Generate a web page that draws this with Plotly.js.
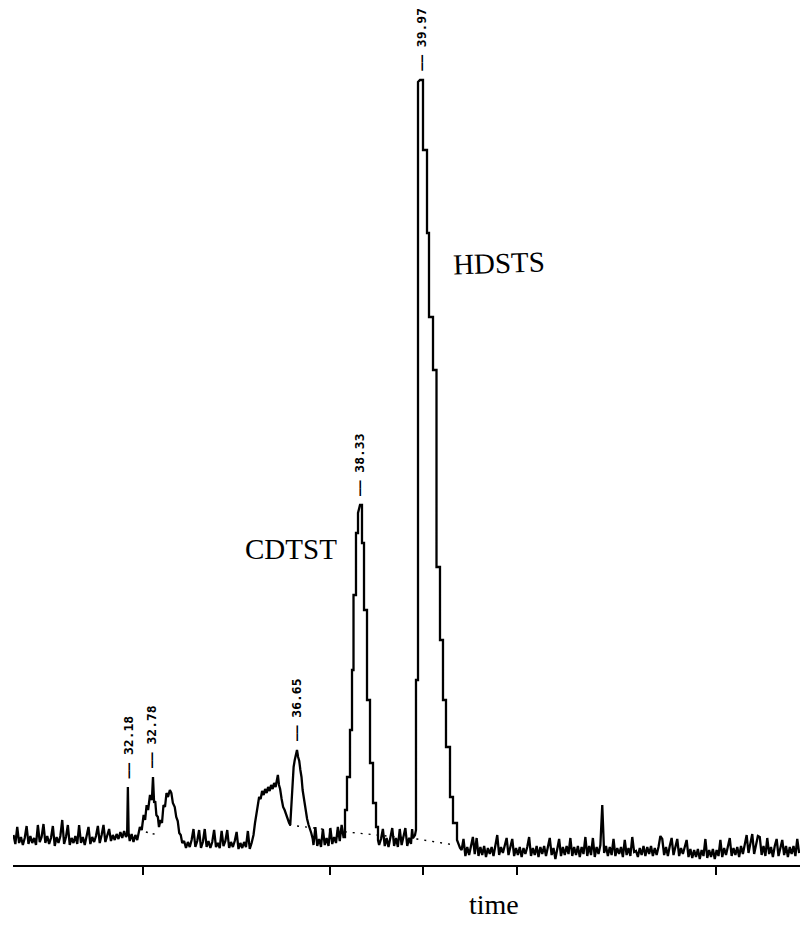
<!DOCTYPE html>
<html>
<head>
<meta charset="utf-8">
<script src="https://cdn.plot.ly/plotly-3.0.1.min.js"></script>
<style>
html,body{margin:0;padding:0;background:#fff;}
#chart{width:801px;height:926px;}
</style>
</head>
<body>
<div id="chart"></div>
<script>
// ---- chromatogram trace (time in min, signal in arbitrary units) ----
const tLeft = [29.10,29.15,29.20,29.25,29.30,29.35,29.40,29.45,29.50,29.55,29.60,29.65,29.70,29.75,29.80,29.85,29.90,29.95,30.00,30.05,30.10,30.15,30.20,30.25,30.30,30.35,30.40,30.45,30.50,30.55,30.60,30.65,30.70,30.75,30.80,30.85,30.90,30.95,31.00,31.05,31.10,31.15,31.20,31.25,31.30,31.35,31.40,31.45,31.50,31.55,31.60,31.65,31.70,31.75,31.80,31.85,31.90,31.95,32.00,32.05,32.10];
const sLeft = [30,21,38,22,28,20,27,39,21,29,22,27,20,40,23,28,41,22,29,21,27,39,19,28,22,29,45,21,28,40,20,27,22,29,21,40,22,28,20,29,38,21,28,23,29,39,22,30,40,23,29,36,24,30,25,31,26,33,27,34,28];

const tPeak1 = [32.13,32.15,32.17,32.20,32.25,32.30,32.35,32.40,32.45,32.47,32.52,32.57,32.61,32.65,32.69,32.74,32.79,32.82,32.85,32.88,32.91,32.95,32.98,33.02,33.06,33.10,33.14,33.18,33.22,33.27,33.31,33.35,33.40,33.44,33.48,33.52,33.56,33.60];
const sPeak1 = [30,78,32,24,31,23,30,25,33,38,35,50,45,60,55,70,65,88,62,64,50,48,38,45,42,60,58,72,68,75,72,62,58,48,44,32,30,22];

const tMid = [33.65,33.70,33.75,33.80,33.85,33.90,33.95,34.00,34.05,34.10,34.15,34.20,34.25,34.30,34.35,34.40,34.45,34.50,34.55,34.60,34.65,34.70,34.75,34.80,34.85,34.90,34.95,35.00,35.05,35.10,35.15,35.20,35.25,35.30,35.35,35.40,35.45];
const sMid = [24,17,23,18,25,36,18,24,35,17,23,36,18,24,17,23,35,18,22,17,34,19,24,35,17,23,18,24,33,16,22,17,23,18,34,16,22];

const tPeak2 = [35.50,35.54,35.58,35.62,35.65,35.69,35.73,35.77,35.81,35.85,35.89,35.93,35.97,36.01,36.05,36.09,36.13,36.15,36.18,36.21,36.25,36.29,36.33,36.37,36.41,36.45,36.48,36.51,36.54,36.57,36.60,36.63,36.66,36.69,36.72,36.75,36.78,36.81,36.84,36.87,36.90,36.93,36.97,37.00,37.04,37.08];
const sPeak2 = [30,42,50,62,68,66,74,70,76,72,78,74,80,76,82,78,86,90,80,76,66,58,55,50,46,42,40,60,80,98,105,110,115,108,104,95,88,75,68,58,52,46,40,37,32,26];

const tBase2 = [37.10,37.15,37.20,37.25,37.30,37.35,37.40,37.45,37.50,37.55,37.60,37.65,37.70,37.75,37.80,37.85,37.90];
const sBase2 = [20,38,19,26,18,36,20,27,19,37,21,28,22,38,24,40,28];

const tPeak3 = [37.94,37.94,37.993,37.993,38.073,38.073,38.127,38.127,38.167,38.167,38.233,38.233,38.287,38.287,38.34,38.393,38.393,38.447,38.447,38.527,38.527,38.607,38.607,38.687,38.687,38.767,38.767,38.82,38.82];
const sPeak3 = [28,55,55,88,88,135,135,195,195,270,270,332,332,352,360,360,322,322,255,255,165,165,102,102,62,62,38,38,25];

const tBase3 = [38.85,38.90,38.95,39.00,39.05,39.10,39.15,39.20,39.25,39.30,39.35,39.40,39.45,39.50,39.55,39.60,39.65,39.70,39.73];
const sBase3 = [20,26,36,19,27,18,26,37,19,27,18,36,20,28,37,19,27,21,36];

const tPeak4 = [39.753,39.807,39.833,39.833,39.887,39.887,39.94,40.02,40.02,40.127,40.127,40.18,40.18,40.287,40.287,40.38,40.38,40.473,40.473,40.553,40.553,40.633,40.633,40.74,40.74,40.82,40.82,40.927,40.927,41.007];
const sPeak4 = [27,30,35,185,185,783,785,785,715,715,632,632,548,548,495,495,298,298,225,225,165,165,118,118,68,68,42,42,25,17];

const tRight = [
 41.05,41.10,41.15,41.20,41.25,41.30,41.35,41.40,41.45,41.50,
 41.55,41.60,41.65,41.70,41.75,41.80,41.85,41.90,41.95,42.00,
 42.05,42.10,42.15,42.20,42.25,42.30,42.35,42.40,42.45,42.50,
 42.55,42.60,42.65,42.70,42.75,42.80,42.85,42.90,42.95,43.00,
 43.05,43.10,43.15,43.20,43.25,43.30,43.35,43.40,43.45,43.50,
 43.55,43.60,43.65,43.70,43.75,43.80,43.85,43.90,43.95,44.00,
 44.05,44.10,44.15,44.20,44.25,44.30,44.35,44.40,44.45,44.50,
 44.55,44.60,44.65,44.70,44.75,44.80,44.85,44.90,44.95,45.00,
 45.05,45.10,45.15,45.20,45.25,45.30,45.35,45.40,45.45,45.50,
 45.55,45.60,45.65,45.70,45.75,45.80,45.85,45.90,45.95,46.00,
 46.05,46.10,46.15,46.20,46.25,46.30,46.35,46.40,46.45,46.50,
 46.55,46.60,46.65,46.70,46.75,46.80,46.85,46.90,46.95,47.00,
 47.05,47.10,47.15,47.20,47.25,47.30,47.35,47.40,47.45,47.50,
 47.55,47.60,47.65,47.70,47.75,47.80,47.85,47.90,47.95,48.00,
 48.05,48.10,48.15,48.20,48.25,48.30,48.35,48.40,48.45,48.50,
 48.55,48.60,48.65,48.70,48.75,48.80,48.85,48.90,48.95,49.00,
 49.05,49.10,49.15,49.20,49.25,49.30,49.35,49.40,49.45,49.50,
 49.55,49.60,49.65,49.70,49.75,49.80,49.85,49.90,49.95,50.00,
 50.05];
const sRight = [
 15,26,9,18,10,19,28,11,27,9,
 18,10,19,8,17,11,18,9,19,30,
 10,18,12,19,27,10,18,26,9,17,
 10,18,8,17,11,18,28,9,17,10,
 19,8,18,11,19,9,18,27,10,17,
 6,18,26,9,18,10,19,11,27,9,
 18,10,19,8,18,11,28,9,19,10,
 27,8,18,11,20,60,12,19,9,18,
 10,26,9,17,11,18,8,25,10,17,
 9,28,13,14,8,17,10,19,9,18,
 11,19,9,17,10,18,29,26,10,18,
 9,19,27,10,18,26,9,17,11,18,
 25,8,16,7,15,8,16,6,15,9,
 26,7,15,8,16,6,15,9,25,8,
 17,10,18,27,9,17,10,18,8,19,
 11,20,30,12,20,31,11,19,29,28,
 10,19,9,27,11,18,8,19,26,9,
 18,25,10,19,8,18,11,19,9,26,
 12];

// dotted integration baselines
const dotT1 = [32.63, 32.95];
const dotS1 = [33, 30];
const dotT2 = [36.45, 37.99, 39.86, 40.87];
const dotS2 = [40, 33, 26, 20];

// peak retention-time labels and the apex heights they sit on
const peakLabels = ['32.18', '32.78', '36.65', '38.33', '39.97'];
const peakApex = [78, 88, 115, 360, 785];

// compound names
const compoundNames = ['CDTST', 'HDSTS'];
const compoundTimes = [36.50, 42.05];
const compoundLevels = [316, 602];

// x-axis tick positions (no labels on the original)
const tickTimes = [32.55, 37.54, 40.02, 42.53, 47.83];

const timeAll = [].concat(tLeft, tPeak1, tMid, tPeak2, tBase2, tPeak3, tBase3, tPeak4, tRight);
const sigAll = [].concat(sLeft, sPeak1, sMid, sPeak2, sBase2, sPeak3, sBase3, sPeak4, sRight);

const traces = [
  {x: timeAll, y: sigAll, type: 'scatter', mode: 'lines',
   line: {color: '#000', width: 2.3}, hoverinfo: 'skip'},
  {x: dotT1, y: dotS1, type: 'scatter', mode: 'lines',
   line: {color: '#000', width: 1.4, dash: '2px,5px'}, hoverinfo: 'skip'},
  {x: dotT2, y: dotS2, type: 'scatter', mode: 'lines',
   line: {color: '#000', width: 1.4, dash: '2px,6px'}, hoverinfo: 'skip'}
];

const annotations = [];
peakLabels.forEach((lab, i) => {
  annotations.push({
    x: parseFloat(lab), y: peakApex[i], xref: 'x', yref: 'y',
    text: '\u2014\u2014 ' + lab, textangle: -90, showarrow: false,
    xanchor: 'center', yanchor: 'bottom', yshift: 7,
    font: {family: 'DejaVu Sans Mono', size: 13, color: '#000', weight: 'bold'}
  });
});
compoundNames.forEach((nm, i) => {
  annotations.push({
    x: compoundTimes[i], y: compoundLevels[i], xref: 'x', yref: 'y',
    text: nm, showarrow: false, xanchor: 'center', yanchor: 'middle',
    textangle: i === 1 ? -2 : 0,
    font: {family: 'Liberation Serif', size: 29, color: '#000'}
  });
});
annotations.push({
  x: 41.91, y: 0, xref: 'x', yref: 'paper', text: 'time', showarrow: false,
  xanchor: 'center', yanchor: 'top', yshift: -22,
  font: {family: 'Liberation Serif', size: 28, color: '#000'}
});

const layout = {
  width: 801, height: 926,
  margin: {l: 13, r: 1, t: 0, b: 61},
  paper_bgcolor: '#fff', plot_bgcolor: '#fff',
  showlegend: false,
  xaxis: {
    range: [29.087, 50.073], showgrid: false, zeroline: false,
    showline: true, linecolor: '#000', linewidth: 1.5,
    tickmode: 'array', tickvals: tickTimes, ticks: 'outside',
    ticklen: 8, tickwidth: 1.5, tickcolor: '#000', showticklabels: false,
    fixedrange: true
  },
  yaxis: {range: [0, 865], visible: false, fixedrange: true},
  annotations: annotations
};

Plotly.newPlot('chart', traces, layout, {staticPlot: true, displayModeBar: false});
</script>
</body>
</html>
